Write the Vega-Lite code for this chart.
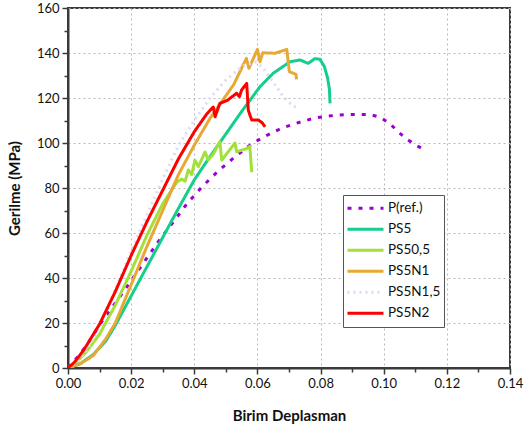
{
  "$schema": "https://vega.github.io/schema/vega-lite/v6.json",
  "width": 442,
  "height": 360,
  "autosize": {"type": "none"},
  "padding": {"left": 68, "top": 8, "right": 22, "bottom": 67},
  "background": "white",
  "config": {
    "font": "Lato",
    "view": {"stroke": "#3a3a3a", "strokeWidth": 2}
  },
  "datasets": {
    "curves": [
      {"s":"P(ref.)","i":0,"x":0,"y":0},
      {"s":"P(ref.)","i":1,"x":0.0027,"y":4.3},
      {"s":"P(ref.)","i":2,"x":0.0049,"y":8.3},
      {"s":"P(ref.)","i":3,"x":0.007,"y":12.4},
      {"s":"P(ref.)","i":4,"x":0.0107,"y":20.6},
      {"s":"P(ref.)","i":5,"x":0.0149,"y":28.7},
      {"s":"P(ref.)","i":6,"x":0.0191,"y":36.9},
      {"s":"P(ref.)","i":7,"x":0.0212,"y":41.3},
      {"s":"P(ref.)","i":8,"x":0.0249,"y":48.7},
      {"s":"P(ref.)","i":9,"x":0.0291,"y":57.2},
      {"s":"P(ref.)","i":10,"x":0.0334,"y":65},
      {"s":"P(ref.)","i":11,"x":0.0378,"y":73.2},
      {"s":"P(ref.)","i":12,"x":0.0423,"y":80.3},
      {"s":"P(ref.)","i":13,"x":0.0473,"y":87.2},
      {"s":"P(ref.)","i":14,"x":0.0529,"y":93.9},
      {"s":"P(ref.)","i":15,"x":0.0585,"y":99.9},
      {"s":"P(ref.)","i":16,"x":0.0617,"y":102.4},
      {"s":"P(ref.)","i":17,"x":0.0648,"y":104.7},
      {"s":"P(ref.)","i":18,"x":0.068,"y":106.7},
      {"s":"P(ref.)","i":19,"x":0.0714,"y":108.4},
      {"s":"P(ref.)","i":20,"x":0.0748,"y":109.8},
      {"s":"P(ref.)","i":21,"x":0.0782,"y":111.1},
      {"s":"P(ref.)","i":22,"x":0.0817,"y":111.8},
      {"s":"P(ref.)","i":23,"x":0.0853,"y":112.4},
      {"s":"P(ref.)","i":24,"x":0.0888,"y":112.7},
      {"s":"P(ref.)","i":25,"x":0.0923,"y":112.7},
      {"s":"P(ref.)","i":26,"x":0.0959,"y":112.6},
      {"s":"P(ref.)","i":27,"x":0.0991,"y":111.3},
      {"s":"P(ref.)","i":28,"x":0.1022,"y":108.3},
      {"s":"P(ref.)","i":29,"x":0.1046,"y":104.9},
      {"s":"P(ref.)","i":30,"x":0.1075,"y":101.5},
      {"s":"P(ref.)","i":31,"x":0.1105,"y":98.8},
      {"s":"P(ref.)","i":32,"x":0.1136,"y":96.4},

      {"s":"PS5","i":0,"x":0,"y":0},
      {"s":"PS5","i":1,"x":0.004,"y":2},
      {"s":"PS5","i":2,"x":0.008,"y":6},
      {"s":"PS5","i":3,"x":0.012,"y":12},
      {"s":"PS5","i":4,"x":0.015,"y":19},
      {"s":"PS5","i":5,"x":0.02,"y":32},
      {"s":"PS5","i":6,"x":0.025,"y":45},
      {"s":"PS5","i":7,"x":0.03,"y":58},
      {"s":"PS5","i":8,"x":0.035,"y":71},
      {"s":"PS5","i":9,"x":0.04,"y":83.6},
      {"s":"PS5","i":10,"x":0.045,"y":94},
      {"s":"PS5","i":11,"x":0.05,"y":104},
      {"s":"PS5","i":12,"x":0.055,"y":114},
      {"s":"PS5","i":13,"x":0.0608,"y":125},
      {"s":"PS5","i":14,"x":0.065,"y":131},
      {"s":"PS5","i":15,"x":0.0703,"y":136.1},
      {"s":"PS5","i":16,"x":0.0735,"y":136.9},
      {"s":"PS5","i":17,"x":0.0761,"y":135.4},
      {"s":"PS5","i":18,"x":0.0782,"y":137.5},
      {"s":"PS5","i":19,"x":0.0798,"y":137.2},
      {"s":"PS5","i":20,"x":0.0812,"y":134},
      {"s":"PS5","i":21,"x":0.0822,"y":129},
      {"s":"PS5","i":22,"x":0.0828,"y":124},
      {"s":"PS5","i":23,"x":0.083,"y":117.6},

      {"s":"PS50,5","i":0,"x":0,"y":0},
      {"s":"PS50,5","i":1,"x":0.003,"y":3},
      {"s":"PS50,5","i":2,"x":0.006,"y":7.5},
      {"s":"PS50,5","i":3,"x":0.01,"y":15},
      {"s":"PS50,5","i":4,"x":0.015,"y":28},
      {"s":"PS50,5","i":5,"x":0.02,"y":43},
      {"s":"PS50,5","i":6,"x":0.025,"y":59},
      {"s":"PS50,5","i":7,"x":0.03,"y":73},
      {"s":"PS50,5","i":8,"x":0.0344,"y":82.5},
      {"s":"PS50,5","i":9,"x":0.036,"y":84},
      {"s":"PS50,5","i":10,"x":0.0371,"y":83},
      {"s":"PS50,5","i":11,"x":0.0381,"y":88},
      {"s":"PS50,5","i":12,"x":0.0392,"y":86},
      {"s":"PS50,5","i":13,"x":0.0402,"y":92.4},
      {"s":"PS50,5","i":14,"x":0.0413,"y":89.5},
      {"s":"PS50,5","i":15,"x":0.0434,"y":96},
      {"s":"PS50,5","i":16,"x":0.0444,"y":92.5},
      {"s":"PS50,5","i":17,"x":0.046,"y":95},
      {"s":"PS50,5","i":18,"x":0.0481,"y":100.5},
      {"s":"PS50,5","i":19,"x":0.0487,"y":92.4},
      {"s":"PS50,5","i":20,"x":0.0529,"y":100},
      {"s":"PS50,5","i":21,"x":0.0534,"y":96.1},
      {"s":"PS50,5","i":22,"x":0.0566,"y":97.5},
      {"s":"PS50,5","i":23,"x":0.0576,"y":98.5},
      {"s":"PS50,5","i":24,"x":0.0582,"y":87},

      {"s":"PS5N1","i":0,"x":0,"y":0},
      {"s":"PS5N1","i":1,"x":0.004,"y":2},
      {"s":"PS5N1","i":2,"x":0.008,"y":5.5},
      {"s":"PS5N1","i":3,"x":0.012,"y":13},
      {"s":"PS5N1","i":4,"x":0.015,"y":20},
      {"s":"PS5N1","i":5,"x":0.02,"y":37},
      {"s":"PS5N1","i":6,"x":0.025,"y":54},
      {"s":"PS5N1","i":7,"x":0.03,"y":70},
      {"s":"PS5N1","i":8,"x":0.035,"y":86},
      {"s":"PS5N1","i":9,"x":0.04,"y":99},
      {"s":"PS5N1","i":10,"x":0.045,"y":111},
      {"s":"PS5N1","i":11,"x":0.05,"y":121},
      {"s":"PS5N1","i":12,"x":0.0525,"y":126},
      {"s":"PS5N1","i":13,"x":0.0565,"y":137.6},
      {"s":"PS5N1","i":14,"x":0.0573,"y":133.2},
      {"s":"PS5N1","i":15,"x":0.06,"y":141.6},
      {"s":"PS5N1","i":16,"x":0.0608,"y":136.1},
      {"s":"PS5N1","i":17,"x":0.0617,"y":140.1},
      {"s":"PS5N1","i":18,"x":0.0656,"y":139.9},
      {"s":"PS5N1","i":19,"x":0.0693,"y":141.6},
      {"s":"PS5N1","i":20,"x":0.0701,"y":131.7},
      {"s":"PS5N1","i":21,"x":0.0722,"y":130.5},
      {"s":"PS5N1","i":22,"x":0.0724,"y":128.3},

      {"s":"PS5N1,5","i":0,"x":0,"y":0},
      {"s":"PS5N1,5","i":1,"x":0.003,"y":3},
      {"s":"PS5N1,5","i":2,"x":0.006,"y":8},
      {"s":"PS5N1,5","i":3,"x":0.01,"y":18},
      {"s":"PS5N1,5","i":4,"x":0.015,"y":35},
      {"s":"PS5N1,5","i":5,"x":0.02,"y":52},
      {"s":"PS5N1,5","i":6,"x":0.025,"y":68},
      {"s":"PS5N1,5","i":7,"x":0.03,"y":84},
      {"s":"PS5N1,5","i":8,"x":0.035,"y":99},
      {"s":"PS5N1,5","i":9,"x":0.04,"y":110},
      {"s":"PS5N1,5","i":10,"x":0.045,"y":120},
      {"s":"PS5N1,5","i":11,"x":0.05,"y":128},
      {"s":"PS5N1,5","i":12,"x":0.055,"y":134},
      {"s":"PS5N1,5","i":13,"x":0.0595,"y":136},
      {"s":"PS5N1,5","i":14,"x":0.062,"y":133},
      {"s":"PS5N1,5","i":15,"x":0.065,"y":127},
      {"s":"PS5N1,5","i":16,"x":0.068,"y":121},
      {"s":"PS5N1,5","i":17,"x":0.0705,"y":117.5},
      {"s":"PS5N1,5","i":18,"x":0.073,"y":115},

      {"s":"PS5N2","i":0,"x":0,"y":0},
      {"s":"PS5N2","i":1,"x":0.002,"y":2.5},
      {"s":"PS5N2","i":2,"x":0.005,"y":8},
      {"s":"PS5N2","i":3,"x":0.01,"y":19.5},
      {"s":"PS5N2","i":4,"x":0.015,"y":34},
      {"s":"PS5N2","i":5,"x":0.02,"y":50},
      {"s":"PS5N2","i":6,"x":0.025,"y":65},
      {"s":"PS5N2","i":7,"x":0.03,"y":79},
      {"s":"PS5N2","i":8,"x":0.035,"y":93},
      {"s":"PS5N2","i":9,"x":0.04,"y":105},
      {"s":"PS5N2","i":10,"x":0.044,"y":113},
      {"s":"PS5N2","i":11,"x":0.046,"y":116},
      {"s":"PS5N2","i":12,"x":0.0466,"y":111.7},
      {"s":"PS5N2","i":13,"x":0.0481,"y":117.6},
      {"s":"PS5N2","i":14,"x":0.0505,"y":119},
      {"s":"PS5N2","i":15,"x":0.0534,"y":122.1},
      {"s":"PS5N2","i":16,"x":0.0543,"y":120.6},
      {"s":"PS5N2","i":17,"x":0.055,"y":123.6},
      {"s":"PS5N2","i":18,"x":0.0566,"y":126.5},
      {"s":"PS5N2","i":19,"x":0.0571,"y":114.7},
      {"s":"PS5N2","i":20,"x":0.0576,"y":112.5},
      {"s":"PS5N2","i":21,"x":0.0582,"y":110.2},
      {"s":"PS5N2","i":22,"x":0.0603,"y":110.2},
      {"s":"PS5N2","i":23,"x":0.0615,"y":109},
      {"s":"PS5N2","i":24,"x":0.0624,"y":107.2}
    ]
  },
  "data": {"name": "curves"},
  "mark": {"type": "line", "strokeWidth": 3, "strokeCap": "butt", "strokeJoin": "round", "clip": true},
  "encoding": {
    "x": {
      "field": "x", "type": "quantitative",
      "scale": {"domain": [0, 0.14], "nice": false, "zero": false},
      "axis": {
        "title": "Birim Deplasman",
        "titleFont": "Lato", "titleFontSize": 15, "titleFontWeight": "bold", "titleColor": "#111",
        "titlePadding": 18,
        "values": [0,0.01,0.02,0.03,0.04,0.05,0.06,0.07,0.08,0.09,0.1,0.11,0.12,0.13,0.14],
        "labelExpr": "round(datum.value*100) % 2 === 0 ? format(datum.value, '.2f') : ''",
        "labelFont": "Lato", "labelFontSize": 13, "labelColor": "#111", "labelPadding": 3,
        "labelFlush": false, "labelOverlap": false,
        "domainColor": "#3a3a3a", "domainWidth": 2,
        "tickColor": "#3a3a3a", "tickWidth": 1.5,
        "tickSize": {"condition": {"test": "round(datum.value*100) % 2 === 0", "value": 6}, "value": 4},
        "grid": true, "gridColor": "#b8b8b8", "gridDash": [2, 3], "gridWidth": 1,
        "gridOpacity": {"condition": {"test": "round(datum.value*100) % 2 === 0", "value": 1}, "value": 0}
      }
    },
    "y": {
      "field": "y", "type": "quantitative",
      "scale": {"domain": [0, 160], "nice": false},
      "axis": {
        "title": "Gerilme (MPa)",
        "titleFont": "Lato", "titleFontSize": 15, "titleFontWeight": "bold", "titleColor": "#111",
        "titlePadding": 14,
        "values": [0,10,20,30,40,50,60,70,80,90,100,110,120,130,140,150,160],
        "labelExpr": "datum.value % 20 === 0 ? format(datum.value, 'd') : ''",
        "labelFont": "Lato", "labelFontSize": 13, "labelColor": "#111", "labelPadding": 3,
        "labelFlush": false, "labelOverlap": false,
        "domainColor": "#3a3a3a", "domainWidth": 2,
        "tickColor": "#3a3a3a", "tickWidth": 1.5,
        "tickSize": {"condition": {"test": "datum.value % 20 === 0", "value": 6}, "value": 4},
        "grid": true, "gridColor": "#b8b8b8", "gridDash": [2, 3], "gridWidth": 1,
        "gridOpacity": {"condition": {"test": "datum.value % 20 === 0", "value": 1}, "value": 0}
      }
    },
    "order": {"field": "i", "type": "quantitative"},
    "color": {
      "field": "s", "type": "nominal",
      "scale": {
        "domain": ["P(ref.)","PS5","PS50,5","PS5N1","PS5N1,5","PS5N2"],
        "range": ["#9A00D0","#14CE8B","#A2E03A","#E7A934","#DADAF8","#FF0000"]
      },
      "legend": {
        "title": null,
        "orient": "none", "legendX": 275, "legendY": 187,
        "fillColor": "white", "strokeColor": "#555555",
        "padding": 3,
        "symbolType": "stroke", "symbolSize": 1296, "symbolStrokeWidth": 3,
        "labelFont": "Lato", "labelFontSize": 13.5, "labelColor": "#111",
        "labelOffset": 3, "rowPadding": 0, "clipHeight": 20.6
      }
    },
    "strokeDash": {
      "field": "s", "type": "nominal",
      "scale": {
        "domain": ["P(ref.)","PS5","PS50,5","PS5N1","PS5N1,5","PS5N2"],
        "range": [[4,7],[1,0],[1,0],[1,0],[2,4],[1,0]]
      },
      "legend": null
    }
  }
}
